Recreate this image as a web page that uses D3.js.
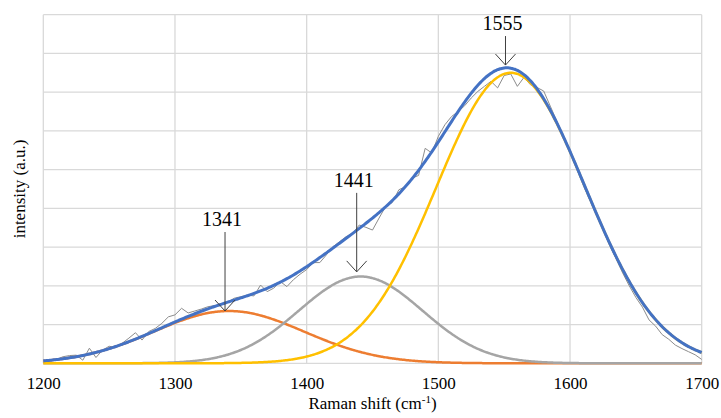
<!DOCTYPE html>
<html>
<head>
<meta charset="utf-8">
<script src="https://cdn.jsdelivr.net/npm/d3@7"></script>
<style>
  body { margin: 0; background: #fff; }
  text { font-family: "Liberation Serif", "Times New Roman", serif; fill: #000; }
</style>
</head>
<body>
<div id="chart"></div>
<script>
// raw spectrum, sampled every 5 cm-1 from 1200 to 1700 (intensity in a.u.)
var rawShift = d3.range(1200, 1701, 5);
var rawIntensity = [
  0.02, 0.06, 0.10, 0.17, 0.20, 0.21, 0.08, 0.39, 0.15, 0.34,
  0.44, 0.41, 0.52, 0.65, 0.79, 0.60, 0.82, 0.90, 1.03, 1.20,
  1.25, 1.42, 1.30, 1.35, 1.40, 1.46, 1.49, 1.52, 1.58, 1.68,
  1.72, 1.76, 1.74, 2.02, 1.85, 1.94, 2.11, 1.98, 2.16, 2.30,
  2.42, 2.60, 2.60, 2.80, 3.01, 3.14, 3.27, 3.36, 3.57, 3.51,
  3.44, 3.75, 4.05, 4.15, 4.48, 4.56, 4.78, 4.85, 5.55, 5.43,
  5.86, 6.16, 6.37, 6.50, 6.65, 6.85, 7.02, 7.15, 7.28, 7.11,
  7.43, 7.47, 7.15, 7.38, 7.19, 7.12, 7.03, 6.64, 6.25, 5.85,
  5.44, 5.03, 4.60, 4.22, 3.84, 3.45, 3.05, 2.70, 2.33, 2.00,
  1.70, 1.45, 1.12, 0.96, 0.74, 0.62, 0.47, 0.38, 0.30, 0.22,
  0.10
];

// gaussian fit components
var peakCenter = [1341, 1441, 1555];
var peakHeight = [1.35, 2.24, 7.5];
var peakSigma = [57, 47, 56.5];

// annotations
var annoText = ["1341", "1441", "1555"];
var annoShift = [1338, 1438, 1551];
var annoTip = [1.35, 2.36, 7.70];

var xTicks = [1200, 1300, 1400, 1500, 1600, 1700];
var yGrid = [0, 1, 2, 3, 4, 5, 6, 7, 8, 9];

var w = 721, h = 418;
var plotLeft = 43.3, plotRight = 701.7, plotTop = 14.7, plotBottom = 363.3;

var compColors = ["#ED7D31", "#A5A5A5", "#FFC000"];
var arrowLen = [79, 79, 29];

var x = d3.scaleLinear().domain([1200, 1700]).range([plotLeft, plotRight]);
var y = d3.scaleLinear().domain([0, 9]).range([plotBottom, plotTop]);

var svg = d3.select("#chart").append("svg")
  .attr("width", w)
  .attr("height", h);

// grid
svg.append("g").selectAll("line")
  .data(yGrid)
  .enter().append("line")
  .attr("x1", plotLeft).attr("x2", plotRight)
  .attr("y1", function(d) { return y(d); })
  .attr("y2", function(d) { return y(d); })
  .attr("stroke", "#d9d9d9")
  .attr("stroke-width", 1.3);

svg.append("g").selectAll("line")
  .data(xTicks)
  .enter().append("line")
  .attr("x1", function(d) { return x(d); })
  .attr("x2", function(d) { return x(d); })
  .attr("y1", plotTop).attr("y2", plotBottom)
  .attr("stroke", "#d9d9d9")
  .attr("stroke-width", 1.3);

// x axis labels
var xAxis = d3.axisBottom(x).tickValues(xTicks).tickSize(0).tickPadding(14)
  .tickFormat(d3.format("d"));
var gx = svg.append("g")
  .attr("transform", "translate(0," + plotBottom + ")")
  .call(xAxis);
gx.select(".domain").remove();
gx.selectAll("text")
  .style("font-family", "'Liberation Serif', serif")
  .style("font-size", "17px")
  .attr("fill", "#000");

// raw data
var rawLine = d3.line()
  .x(function(d, i) { return x(rawShift[i]); })
  .y(function(d) { return y(d); });

svg.append("path")
  .attr("d", rawLine(rawIntensity))
  .attr("fill", "none")
  .attr("stroke", "#8c8c8c")
  .attr("stroke-width", 1);

// components
var grid = d3.range(1200, 1700.01, 1);
function gauss(k, s) {
  var d = s - peakCenter[k];
  return peakHeight[k] * Math.exp(-d * d / (2 * peakSigma[k] * peakSigma[k]));
}
var curve = d3.line()
  .x(function(d) { return x(d[0]); })
  .y(function(d) { return y(d[1]); })
  .curve(d3.curveMonotoneX);

peakCenter.forEach(function(c, k) {
  svg.append("path")
    .attr("d", curve(grid.map(function(s) { return [s, gauss(k, s)]; })))
    .attr("fill", "none")
    .attr("stroke", compColors[k])
    .attr("stroke-width", 2.5);
});

// total fit
svg.append("path")
  .attr("d", curve(grid.map(function(s) {
    return [s, d3.sum(peakCenter, function(c, k) { return gauss(k, s); })];
  })))
  .attr("fill", "none")
  .attr("stroke", "#4472C4")
  .attr("stroke-width", 3);

// annotations
annoText.forEach(function(t, i) {
  var ax = x(annoShift[i]);
  var tip = y(annoTip[i]);
  var g = svg.append("g");
  g.append("line")
    .attr("x1", ax).attr("x2", ax)
    .attr("y1", tip - arrowLen[i]).attr("y2", tip)
    .attr("stroke", "#404040").attr("stroke-width", 1);
  g.append("path")
    .attr("d", "M" + (ax - 10) + "," + (tip - 11) + "L" + ax + "," + tip + "L" + (ax + 10) + "," + (tip - 11))
    .attr("fill", "none")
    .attr("stroke", "#404040").attr("stroke-width", 1);
  g.append("text")
    .attr("x", ax - 3)
    .attr("y", tip - arrowLen[i] - 6)
    .attr("text-anchor", "middle")
    .style("font-size", "20px")
    .text(t);
});

// axis titles
svg.append("text")
  .attr("transform", "translate(19," + ((plotTop + plotBottom) / 2) + ") rotate(-90)")
  .attr("text-anchor", "middle")
  .attr("dominant-baseline", "central")
  .style("font-size", "17px")
  .text("intensity (a.u.)");

var xt = svg.append("text")
  .attr("x", (plotLeft + plotRight) / 2)
  .attr("y", 409)
  .attr("text-anchor", "middle")
  .style("font-size", "17px");
xt.append("tspan").text("Raman shift (cm");
xt.append("tspan").attr("dy", -6).style("font-size", "11px").text("-1");
xt.append("tspan").attr("dy", 6).text(")");
</script>
</body>
</html>
